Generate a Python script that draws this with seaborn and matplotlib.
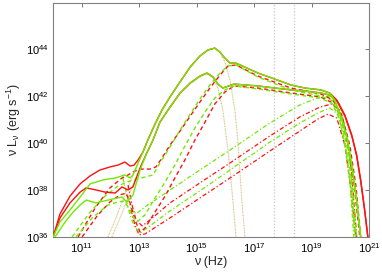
import numpy as np
import matplotlib
matplotlib.use("Agg")
import matplotlib.pyplot as plt
import seaborn as sns

# ---- data (log10 nu [Hz], log10 nu L_nu [erg/s]) ----
# totals
rh_tot_x = [10.00,10.24,10.59,10.94,11.29,11.63,11.98,12.26,12.50,12.68,12.82,12.96,13.13,13.30,13.55,13.79,14.07,14.42,14.77,15.11,15.39,15.63,15.81,15.98,16.16,16.37,16.68,17.13,17.72,18.28,18.77,19.32,19.63,19.88,20.16,20.40,20.57,20.71,20.85,20.96]
rh_tot_y = [36.00,36.98,37.74,38.26,38.60,38.85,38.98,39.06,39.19,39.02,39.06,39.28,39.62,40.13,40.81,41.40,41.96,42.60,43.23,43.70,43.96,44.04,43.87,43.62,43.40,43.40,43.23,42.98,42.72,42.47,42.34,42.26,42.13,41.83,41.19,40.34,39.49,38.43,37.15,36.00]
gh_tot_x = [10.00,10.24,10.59,10.94,11.29,11.74,12.16,12.50,12.68,12.78,12.96,13.13,13.30,13.55,13.79,14.07,14.42,14.77,15.11,15.39,15.63,15.81,15.98,16.16,16.37,16.68,17.13,17.72,18.28,18.77,19.32,19.63,19.81,20.05,20.26,20.43,20.57,20.71]
gh_tot_y = [36.00,36.64,37.15,37.70,38.26,38.43,38.51,38.64,38.51,38.64,39.15,39.62,40.13,40.81,41.40,41.96,42.60,43.23,43.70,43.96,44.04,43.87,43.62,43.40,43.40,43.23,42.98,42.72,42.47,42.34,42.26,42.13,41.83,41.06,40.13,38.85,37.57,36.00]
rl_tot_x = [10.00,10.24,10.59,10.94,11.15,11.50,11.81,12.16,12.40,12.61,12.78,13.03,13.23,13.48,13.72,14.07,14.42,14.77,15.11,15.36,15.57,15.74,15.91,16.12,16.30,16.68,17.13,17.72,18.28,18.77,19.32,19.63,19.88,20.16,20.40,20.57,20.71,20.85,20.96]
rl_tot_y = [36.00,36.81,37.45,37.91,38.09,38.00,37.91,37.87,38.13,38.00,38.13,38.94,39.49,40.13,40.89,41.53,42.13,42.55,42.85,42.98,42.81,42.51,42.34,42.43,42.51,42.47,42.43,42.34,42.26,42.21,42.13,42.04,41.79,41.15,40.30,39.45,38.38,37.11,36.00]
gl_tot_x = [10.07,10.42,10.70,10.94,11.15,11.50,11.91,12.40,12.57,12.78,13.03,13.23,13.48,13.72,14.07,14.42,14.77,15.11,15.36,15.57,15.74,15.91,16.12,16.30,16.68,17.13,17.72,18.28,18.77,19.32,19.63,19.81,20.05,20.26,20.43,20.57,20.71]
gl_tot_y = [36.00,36.64,37.06,37.36,37.57,37.45,37.57,37.70,37.49,37.79,38.85,39.49,40.13,40.89,41.53,42.13,42.55,42.85,42.98,42.81,42.51,42.34,42.43,42.51,42.47,42.43,42.34,42.26,42.21,42.13,42.04,41.79,40.98,40.04,38.77,37.49,36.00]

# coronae (dashed)
rh_cor_x = [10.87,11.46,11.98,12.40,12.61,12.78,13.03,13.37,13.58,13.79,14.07,14.42,14.80,15.11,15.46,15.81,16.09,16.37,17.13,18.28,19.32,19.74,20.05,20.33,20.54,20.71]
rh_cor_y = [36.00,37.23,38.09,38.51,38.64,38.77,38.89,38.89,38.98,39.36,39.91,40.51,41.19,41.74,42.34,42.89,43.28,43.32,42.85,42.34,42.09,41.83,41.19,39.91,38.21,36.00]
gh_cor_x = [10.66,11.29,11.81,12.26,12.50,12.78,13.20,13.48,13.72,14.07,14.42,14.80,15.11,15.46,15.81,16.09,16.37,17.13,18.28,19.32,19.74,19.98,20.23,20.43,20.57]
gh_cor_y = [36.00,37.06,37.74,38.17,38.30,38.43,38.55,38.64,39.15,39.83,40.55,41.28,41.87,42.47,42.98,43.28,43.32,42.81,42.26,42.00,41.79,41.15,39.87,38.00,36.00]
rl_cor_x = [11.01,11.53,11.98,12.33,12.54,12.68,12.85,13.03,13.20,13.55,13.90,14.24,14.59,14.94,15.29,15.63,15.98,16.30,17.13,18.28,19.32,19.74,20.05,20.30,20.50,20.68]
rl_cor_y = [36.00,36.89,37.49,37.79,37.87,37.45,36.72,36.21,36.38,37.06,37.74,38.51,39.28,40.13,40.89,41.66,42.17,42.43,42.34,42.13,41.96,41.70,41.06,39.70,38.00,36.00]
gl_cor_x = [10.80,11.36,11.91,12.26,12.47,12.61,12.75,12.92,13.20,13.55,13.90,14.24,14.59,14.94,15.29,15.63,15.98,16.30,17.13,18.28,19.32,19.74,19.98,20.19,20.40,20.54]
gl_cor_y = [36.00,36.81,37.36,37.49,37.53,37.28,36.94,36.64,36.94,37.66,38.34,39.06,39.87,40.64,41.32,41.91,42.26,42.43,42.30,42.09,41.91,41.66,40.98,39.70,37.79,36.00]

# dash-dot components
g1_dd_x = [12.43,12.57,12.71,12.89,13.20,14.07,15.11,16.16,17.55,18.59,19.29,19.70,19.98,20.19,20.37,20.50]
g1_dd_y = [38.51,37.79,37.23,36.98,37.28,38.00,38.85,39.70,40.85,41.62,41.96,42.00,41.66,40.55,38.85,36.00]
r1_dd_x = [12.61,12.75,12.89,13.10,13.37,14.07,15.11,16.16,17.55,18.59,19.29,19.70,19.98,20.23,20.40,20.57]
r1_dd_y = [38.21,37.36,36.72,36.47,36.72,37.45,38.30,39.15,40.30,41.11,41.53,41.66,41.40,40.34,38.64,36.00]
g2_dd_x = [12.54,12.68,12.82,13.03,13.37,14.07,15.11,16.16,17.55,18.59,19.22,19.63,19.91,20.16,20.33,20.47]
g2_dd_y = [37.57,36.94,36.47,36.17,36.47,37.11,37.96,38.85,40.04,40.85,41.28,41.49,41.23,40.13,38.43,36.00]
r2_dd_x = [12.71,12.85,12.99,13.20,14.07,15.11,16.16,17.55,18.59,19.22,19.57,19.88,20.16,20.37,20.54]
r2_dd_y = [37.15,36.51,36.09,36.13,36.81,37.66,38.51,39.66,40.51,41.02,41.23,41.06,39.91,38.00,36.00]

# discs (dotted)
dhi_x = [11.91,12.16,12.40,12.68,12.92,13.13,13.30,13.55,13.79,14.07,14.42,14.77,15.11,15.39,15.63,15.81,15.98,16.16,16.33,16.43,16.57,16.68]
dhi_y = [36.00,36.72,37.49,38.34,39.02,39.62,40.13,40.81,41.40,41.96,42.60,43.23,43.70,43.96,44.04,43.87,43.45,42.68,41.40,40.13,37.57,36.00]
dlo_x = [12.05,12.30,12.54,12.78,13.03,13.23,13.48,13.72,14.07,14.42,14.77,15.11,15.36,15.57,15.74,15.91,16.09,16.26,16.37]
dlo_y = [36.00,36.72,37.45,38.21,38.94,39.49,40.13,40.85,41.49,42.09,42.51,42.81,42.94,42.77,42.34,41.40,39.70,37.57,36.00]

# energy band markers: 2 keV and 10 keV
band_nu_log = [17.684, 18.383]

x_ticks_log = [11, 13, 15, 17, 19, 21]
y_ticks_log = [36, 38, 40, 42, 44]

RED = "#ff1010"
GREEN = "#70ea00"

sns.set_theme(style="white")
plt.rcParams["font.family"] = ["Liberation Sans", "DejaVu Sans"]
plt.rcParams["mathtext.fontset"] = "custom"
plt.rcParams["mathtext.rm"] = "Liberation Sans"
plt.rcParams["mathtext.it"] = "Liberation Sans"
plt.rcParams["mathtext.default"] = "regular"

fig = plt.figure(figsize=(3.82, 2.73), dpi=100)
ax = fig.add_axes([0.139, 0.132, 0.827, 0.857])
ax.set_xscale("log")
ax.set_yscale("log")


def draw(xl, yl, color, ls, lw=1.0, alpha=1.0, z=2):
    sns.lineplot(x=10 ** np.array(xl), y=10 ** np.array(yl), ax=ax, color=color,
                 linestyle=ls, linewidth=lw, alpha=alpha, sort=False,
                 estimator=None, zorder=z, legend=False)

for v in band_nu_log:
    ax.axvline(10 ** v, color="#c8c8c8", linestyle=(0, (1, 1.5)), linewidth=0.9, zorder=1)

# discs
for xl, yl in [(dhi_x, dhi_y), (dlo_x, dlo_y)]:
    draw(xl, yl, RED, (0, (1, 2)), lw=0.8, alpha=0.4, z=2)
    draw(xl, yl, GREEN, (1.5, (1, 2)), lw=0.8, alpha=0.5, z=2)

# dash-dot
dd = (0, (3.5, 1.8, 1, 1.8))
draw(r1_dd_x, r1_dd_y, RED, dd, lw=0.9, z=3)
draw(r2_dd_x, r2_dd_y, RED, dd, lw=0.9, z=3)
draw(g1_dd_x, g1_dd_y, GREEN, dd, lw=0.9, z=3)
draw(g2_dd_x, g2_dd_y, GREEN, dd, lw=0.9, z=3)

# coronae
ds = (0, (3, 2.2))
draw(rh_cor_x, rh_cor_y, RED, ds, lw=1.0, z=4)
draw(rl_cor_x, rl_cor_y, RED, ds, lw=1.0, z=4)
draw(gh_cor_x, gh_cor_y, GREEN, ds, lw=1.0, z=4)
draw(gl_cor_x, gl_cor_y, GREEN, ds, lw=1.0, z=4)

# totals
draw(rh_tot_x, rh_tot_y, RED, "-", lw=1.0, z=5)
draw(rl_tot_x, rl_tot_y, RED, "-", lw=1.0, z=5)
draw(gh_tot_x, gh_tot_y, GREEN, "-", lw=1.0, z=6)
draw(gl_tot_x, gl_tot_y, GREEN, "-", lw=1.0, z=6)

ax.set_xlim(1e10, 1e21)
ax.set_ylim(1e36, 10 ** 45.96)
ax.set_xticks([10.0 ** t for t in x_ticks_log])
ax.set_xticklabels([r"$10^{%d}$" % t for t in x_ticks_log])
ax.set_yticks([10.0 ** t for t in y_ticks_log])
ax.set_yticklabels([r"$10^{%d}$" % t for t in y_ticks_log])
ax.minorticks_off()
ax.tick_params(axis="both", which="major", direction="in", length=3, width=0.6,
               colors="#606060", labelcolor="black", labelsize=8, top=True, right=True,
               pad=3)
for s in ax.spines.values():
    s.set_color("#808080")
    s.set_linewidth(0.8)

ax.set_xlabel("ν (Hz)", fontsize=9, labelpad=1)
ax.set_ylabel("ν L$_{ν}$ (erg s$^{-1}$)", fontsize=9, labelpad=2)

fig.savefig("out.png", dpi=100)
